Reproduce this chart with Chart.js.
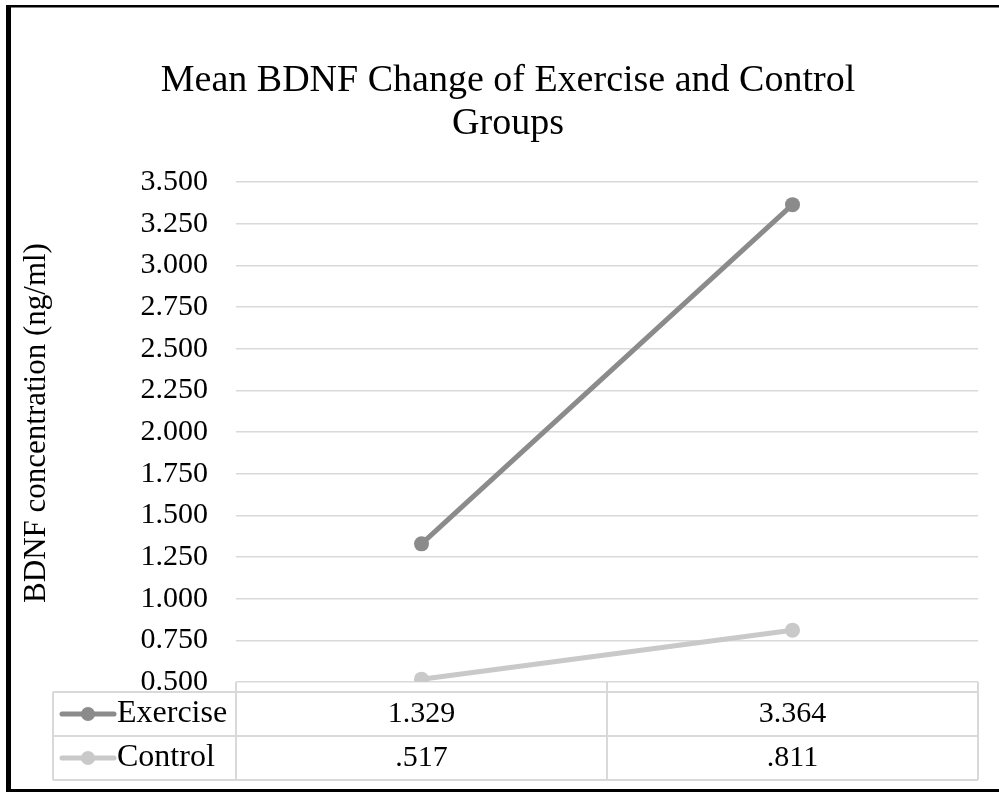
<!DOCTYPE html>
<html>
<head>
<meta charset="utf-8">
<script src="https://cdn.jsdelivr.net/npm/chart.js@4/dist/chart.umd.min.js"></script>
<style>
  html, body { margin: 0; padding: 0; background: #ffffff; }
  canvas { display: block; }
</style>
</head>
<body>
<canvas id="chart" width="999" height="793"></canvas>
<script>
// Measurement occasions (the data table stands in for x-axis labels)
const timePoints = ['', ''];

// Mean BDNF concentration (ng/ml) per group
const exerciseValues = [1.329, 3.364];
const controlValues = [0.517, 0.811];

// Value axis range and tick step
const yMin = 0.5;
const yMax = 3.5;
const yStep = 0.25;

// Chart title (two lines) and value-axis title
const titleLines = ['Mean BDNF Change of Exercise and Control', 'Groups'];
const yAxisTitle = 'BDNF concentration (ng/ml)';

const serif = '"Liberation Serif", "Times New Roman", serif';

// Excel-style number format: three decimals, no leading zero below 1
function tableFormat(v) {
  const s = v.toFixed(3);
  return Math.abs(v) < 1 ? s.replace(/^0/, '') : s;
}

// Outer frame, chart title and rotated value-axis title
const framePlugin = {
  id: 'frame',
  afterDraw(chart) {
    const ctx = chart.ctx;
    const area = chart.chartArea;
    ctx.save();
    ctx.fillStyle = '#000000';
    ctx.fillRect(6, 5, 5, 787);     // left edge
    ctx.fillRect(6, 5, 993, 2.5);   // top edge
    ctx.fillRect(6, 789, 993, 3);   // bottom edge

    ctx.textAlign = 'center';
    ctx.textBaseline = 'middle';
    ctx.font = '38px ' + serif;
    titleLines.forEach((line, i) => {
      ctx.fillText(line, 508, 81.5 + i * 43);
    });

    ctx.font = '31px ' + serif;
    ctx.translate(37, (area.top + area.bottom) / 2 - 9);
    ctx.rotate(-Math.PI / 2);
    ctx.fillText(yAxisTitle, 0, 0);
    ctx.restore();
  }
};

// Data table under the plot area, with legend keys in the first column
const dataTablePlugin = {
  id: 'dataTable',
  afterDraw(chart) {
    const ctx = chart.ctx;
    const area = chart.chartArea;
    const xs = chart.scales.x;
    const datasets = chart.data.datasets;
    const rowTop = area.bottom + 10;
    const rowH = 44;
    const labelLeft = 53;
    const tableBottom = rowTop + rowH * datasets.length;

    const colEdges = [area.left];
    for (let i = 0; i < timePoints.length - 1; i++) {
      colEdges.push((xs.getPixelForValue(i) + xs.getPixelForValue(i + 1)) / 2);
    }
    colEdges.push(area.right);

    ctx.save();
    ctx.strokeStyle = '#d9d9d9';
    ctx.lineWidth = 2;
    ctx.beginPath();
    for (let r = 0; r <= datasets.length; r++) {
      const y = rowTop + r * rowH;
      ctx.moveTo(labelLeft, y);
      ctx.lineTo(area.right, y);
    }
    ctx.moveTo(labelLeft, rowTop);
    ctx.lineTo(labelLeft, tableBottom);
    colEdges.forEach(x => {
      ctx.moveTo(x, area.bottom);
      ctx.lineTo(x, tableBottom);
    });
    ctx.stroke();

    ctx.textBaseline = 'middle';
    datasets.forEach((ds, r) => {
      const cy = rowTop + r * rowH + rowH / 2;
      // legend key: short line with a marker
      ctx.strokeStyle = ds.borderColor;
      ctx.lineWidth = 5;
      ctx.lineCap = 'round';
      ctx.beginPath();
      ctx.moveTo(62, cy);
      ctx.lineTo(114, cy);
      ctx.stroke();
      ctx.fillStyle = ds.borderColor;
      ctx.beginPath();
      ctx.arc(88, cy, 7, 0, Math.PI * 2);
      ctx.fill();

      ctx.fillStyle = '#000000';
      ctx.font = '32px ' + serif;
      ctx.textAlign = 'left';
      ctx.fillText(ds.label, 117, cy);
      ctx.font = '30px ' + serif;
      ctx.textAlign = 'center';
      ds.data.forEach((v, i) => {
        ctx.fillText(tableFormat(v), xs.getPixelForValue(i), cy);
      });
    });
    ctx.restore();
  }
};

Chart.defaults.color = '#000000';
Chart.defaults.font.family = serif;

new Chart(document.getElementById('chart'), {
  type: 'line',
  data: {
    labels: timePoints,
    datasets: [
      {
        label: 'Exercise',
        data: exerciseValues,
        borderColor: '#8b8b8b',
        backgroundColor: '#8b8b8b',
        borderWidth: 5,
        pointRadius: 7.5,
        pointHoverRadius: 7.5,
        pointBorderWidth: 0,
        fill: false,
        tension: 0
      },
      {
        label: 'Control',
        data: controlValues,
        borderColor: '#c9c9c9',
        backgroundColor: '#c9c9c9',
        borderWidth: 5,
        pointRadius: 7.5,
        pointHoverRadius: 7.5,
        pointBorderWidth: 0,
        fill: false,
        tension: 0
      }
    ]
  },
  options: {
    responsive: false,
    animation: false,
    devicePixelRatio: 1,
    layout: {
      padding: { top: 182, left: 16, right: 21, bottom: 111 }
    },
    plugins: {
      legend: { display: false },
      tooltip: { enabled: false },
      title: { display: false }
    },
    scales: {
      x: {
        type: 'category',
        display: false,
        offset: true
      },
      y: {
        min: yMin,
        max: yMax,
        afterFit(scale) { scale.width = 220; },
        ticks: {
          stepSize: yStep,
          padding: 28,
          color: '#000000',
          font: { family: serif, size: 30 },
          callback: v => Number(v).toFixed(3)
        },
        grid: {
          color: '#d9d9d9',
          lineWidth: 1.5,
          drawTicks: false
        },
        border: { display: false },
        title: { display: false }
      }
    }
  },
  plugins: [dataTablePlugin, framePlugin]
});
</script>
</body>
</html>
